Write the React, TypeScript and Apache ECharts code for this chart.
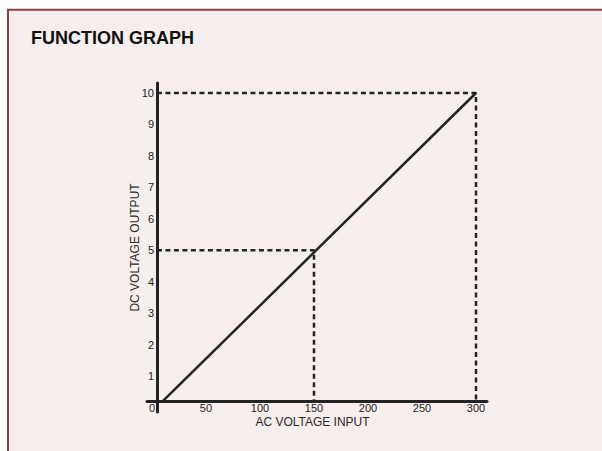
import React, { useEffect, useRef } from "react";
import * as echarts from "echarts";

// ---- data ----
const xTickValues = [0, 50, 100, 150, 200, 250, 300];
const yTickValues = [1, 2, 3, 4, 5, 6, 7, 8, 9, 10];
// transfer function: AC input (V) -> DC output (V)
const functionLine: [number, number][] = [
  [10, 0.2],
  [300, 10],
];
// reference points highlighted with dashed guides
const guidePoints: [number, number][] = [
  [150, 5],
  [300, 10],
];
// where the drawn axes cross in data units
const yAxisCrossX = 4.6;
const xAxisCrossY = 0.2;

const FONT = "Liberation Sans, Arial, sans-serif";
const INK = "#242424";

export default function App() {
  const ref = useRef<HTMLDivElement>(null);

  useEffect(() => {
    if (!ref.current) return;
    const chart = echarts.init(ref.current, undefined, { renderer: "svg" });

    const guideSeries = guidePoints.map((p, i) => ({
      type: "line",
      name: "guide" + i,
      data: [
        [yAxisCrossX, p[1]],
        [p[0], p[1]],
        [p[0], xAxisCrossY],
      ],
      symbol: "none",
      silent: true,
      z: 3,
      lineStyle: { color: INK, width: 2.5, type: [5, 3.5] },
    }));

    chart.setOption({
      animation: false,
      backgroundColor: "#ffffff",
      textStyle: { fontFamily: FONT },
      title: {
        text: "FUNCTION GRAPH",
        left: 31,
        top: 29,
        padding: 0,
        textStyle: { fontFamily: FONT, fontSize: 18, fontWeight: "bold", color: "#111" },
      },
      graphic: [
        {
          type: "rect",
          z: -100,
          silent: true,
          shape: { x: 8, y: 9.7, width: 700, height: 600 },
          style: { fill: "#f7efed", stroke: "#8d3e49", lineWidth: 2 },
        },
      ],
      grid: { left: 147, right: 115, top: 83, bottom: 39, containLabel: false },
      xAxis: {
        type: "value",
        min: -4.6,
        max: 310.2,
        offset: -11,
        name: "AC VOLTAGE INPUT",
        nameLocation: "middle",
        nameGap: 15,
        nameMoveOverlap: false,
        nameTextStyle: { fontFamily: FONT, fontSize: 12, color: "#2a2a2a", padding: [0, 9, 0, 0] },
        axisLine: { show: true, onZero: false, lineStyle: { color: INK, width: 3 } },
        axisTick: { show: false },
        splitLine: { show: false },
        axisLabel: {
          customValues: xTickValues,
          margin: 1,
          fontFamily: FONT,
          fontSize: 11,
          color: "#222",
        },
      },
      yAxis: {
        type: "value",
        min: -0.143,
        max: 10.318,
        offset: -10,
        name: "DC VOLTAGE OUTPUT",
        nameLocation: "middle",
        nameGap: 16,
        nameMoveOverlap: false,
        nameTextStyle: { fontFamily: FONT, fontSize: 12, color: "#2a2a2a" },
        axisLine: { show: true, onZero: false, lineStyle: { color: INK, width: 3 } },
        axisTick: { show: false },
        splitLine: { show: false },
        axisLabel: {
          customValues: yTickValues,
          margin: 3,
          fontFamily: FONT,
          fontSize: 11,
          color: "#222",
        },
      },
      series: [
        ...guideSeries,
        {
          type: "line",
          name: "function",
          data: functionLine,
          symbol: "none",
          silent: true,
          z: 4,
          lineStyle: { color: INK, width: 2.5 },
        },
      ],
    });

    return () => chart.dispose();
  }, []);

  return (
    <div
      ref={ref}
      style={{ position: "fixed", left: 0, top: 0, width: 602, height: 451 }}
    />
  );
}
